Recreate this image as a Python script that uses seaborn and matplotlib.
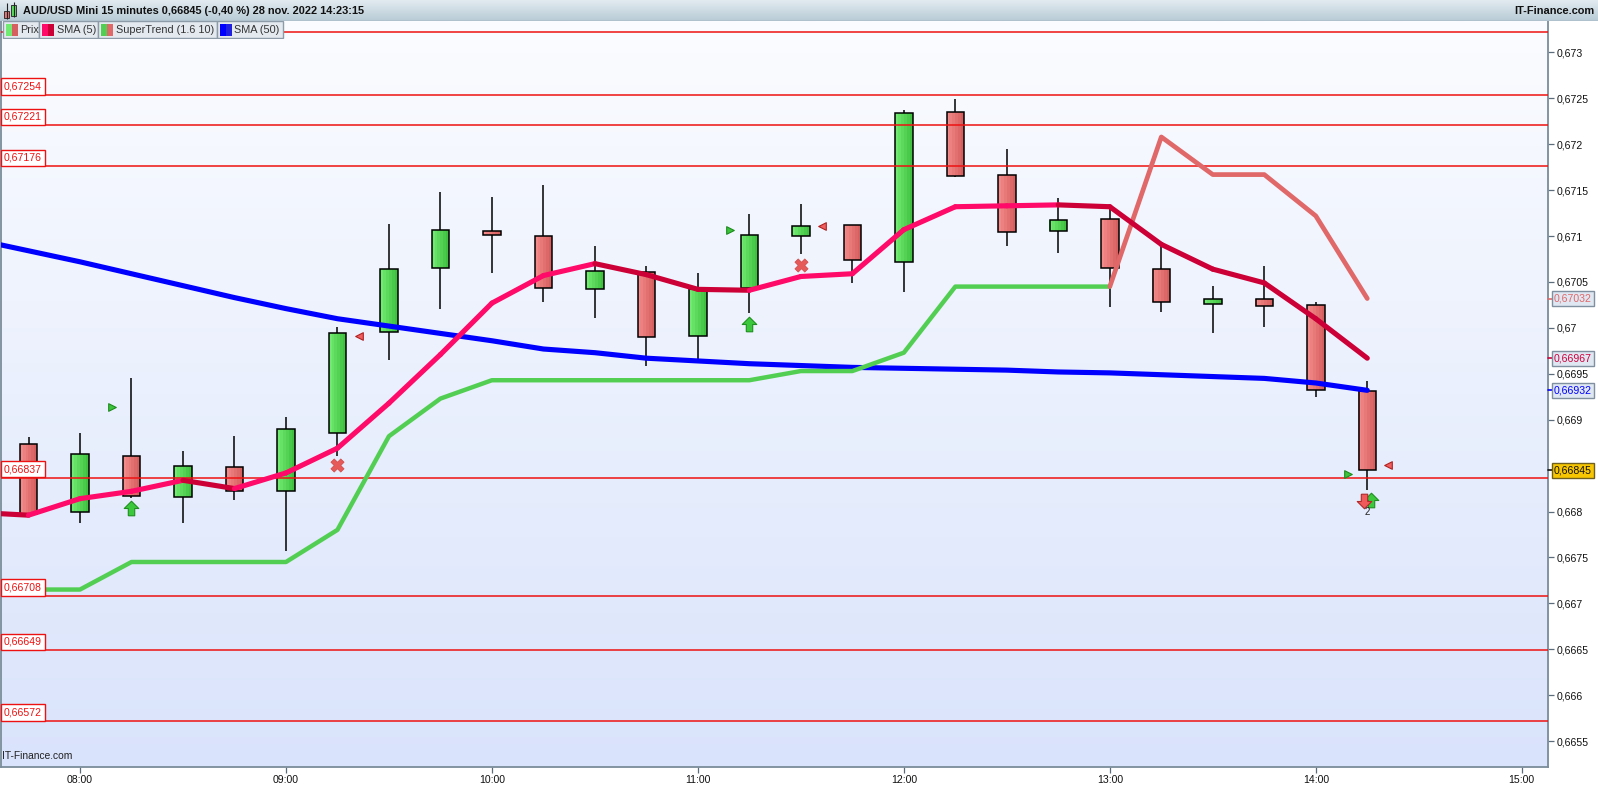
import numpy as np
import matplotlib
matplotlib.use('Agg')
import matplotlib.pyplot as plt
from matplotlib.colors import LinearSegmentedColormap, to_rgb
from matplotlib.patches import Rectangle
from matplotlib.path import Path
import seaborn as sns

W, H = 1598, 787

# 15 minute bars
times = ['07:45', '08:00', '08:15', '08:30', '08:45', '09:00', '09:15', '09:30', '09:45',
         '10:00', '10:15', '10:30', '10:45', '11:00', '11:15', '11:30', '11:45', '12:00',
         '12:15', '12:30', '12:45', '13:00', '13:15', '13:30', '13:45', '14:00', '14:15']
opens = [0.66873, 0.66800, 0.66861, 0.66816, 0.66849, 0.66822, 0.66886, 0.66995, 0.67065,
         0.67106, 0.67100, 0.67042, 0.67061, 0.66991, 0.67044, 0.67100, 0.67112, 0.67072,
         0.67235, 0.67167, 0.67106, 0.67119, 0.67064, 0.67026, 0.67032, 0.67025, 0.66931]
highs = [0.66881, 0.66886, 0.66945, 0.66866, 0.66882, 0.66903, 0.67001, 0.67113, 0.67148,
         0.67143, 0.67156, 0.67089, 0.67067, 0.67060, 0.67124, 0.67135, 0.67112, 0.67237,
         0.67249, 0.67195, 0.67142, 0.67132, 0.67093, 0.67046, 0.67067, 0.67028, 0.66942]
lows = [0.66796, 0.66787, 0.66815, 0.66787, 0.66812, 0.66757, 0.66861, 0.66965, 0.67021,
        0.67060, 0.67028, 0.67011, 0.66959, 0.66966, 0.67016, 0.67080, 0.67049, 0.67039,
        0.67164, 0.67089, 0.67082, 0.67023, 0.67017, 0.66994, 0.67001, 0.66925, 0.66823]
closes = [0.66797, 0.66863, 0.66817, 0.66850, 0.66822, 0.66890, 0.66994, 0.67064, 0.67107,
          0.67101, 0.67043, 0.67062, 0.66990, 0.67042, 0.67101, 0.67111, 0.67074, 0.67234,
          0.67166, 0.67105, 0.67118, 0.67065, 0.67028, 0.67032, 0.67024, 0.66932, 0.66845]

# indicators, first value belongs to the bar before 07:45
sma5 = [0.66799, 0.66796, 0.66814, 0.66822, 0.66834, 0.66825, 0.66842, 0.66869, 0.66918,
        0.66971, 0.67027, 0.67057, 0.67070, 0.67058, 0.67042, 0.67041, 0.67056, 0.67059,
        0.67107, 0.67132, 0.67133, 0.67134, 0.67132, 0.67091, 0.67064, 0.67049, 0.67010, 0.66967]
sma50 = [0.67096, 0.67084, 0.67072, 0.67059, 0.67046, 0.67033, 0.67021, 0.67010, 0.67002,
         0.66994, 0.66986, 0.66977, 0.66973, 0.66967, 0.66964, 0.66961, 0.66959, 0.66957,
         0.66956, 0.66955, 0.66954, 0.66952, 0.66951, 0.66949, 0.66947, 0.66945, 0.66940, 0.66932]
# supertrend: support (bars 07:45-13:00) then resistance (13:00-14:15)
st_up = [0.66715, 0.66715, 0.66745, 0.66745, 0.66745, 0.66745, 0.66780, 0.66882, 0.66923,
         0.66943, 0.66943, 0.66943, 0.66943, 0.66943, 0.66943, 0.66953, 0.66953, 0.66973,
         0.67045, 0.67045, 0.67045, 0.67045]
st_down = [0.67045, 0.67208, 0.67167, 0.67167, 0.67122, 0.67032]

# horizontal levels
levels = [0.67322, 0.67254, 0.67221, 0.67176, 0.66837, 0.66708, 0.66649, 0.66572]
level_labels = ['', '0,67254', '0,67221', '0,67176', '0,66837', '0,66708', '0,66649', '0,66572']

# signals (bar index, price)
buy_tri_bar, buy_tri_px = [2, 14, 26], [0.66914, 0.67107, 0.66841]
sell_tri_bar, sell_tri_px = [6, 15, 26], [0.66991, 0.67111, 0.66851]
cross_bar, cross_px = [6, 15], [0.66851, 0.67069]
up_bar, up_px = [2, 14, 26], [0.66804, 0.67004, 0.66813]
down_bar, down_px = [26], [0.66811]

hour_labels = ['08:00', '09:00', '10:00', '11:00', '12:00', '13:00', '14:00', '15:00']
# 0,6685 is hidden behind the last price tag
y_ticks = [0.6655, 0.666, 0.6665, 0.667, 0.6675, 0.668, 0.669, 0.6695,
           0.67, 0.6705, 0.671, 0.6715, 0.672, 0.6725, 0.673]

GREEN_L, GREEN_R = '#70ea70', '#40c240'
RED_L, RED_R = '#f38a8a', '#d65f5f'
SMA5_UP = '#ff0a68'
SMA5_DN = '#cc0036'
ST_GREEN = '#52cf52'
ST_RED = '#e06868'


def to_x(t):
    h, m = t.split(':')
    return (int(h) * 60 + int(m) - (7 * 60 + 45)) / 15.0


def mix(c1, c2, f):
    a, b = np.array(to_rgb(c1)), np.array(to_rgb(c2))
    return tuple(a + (b - a) * f)


sns.set_theme(style='white')
plt.rcParams['font.family'] = ['Liberation Sans', 'DejaVu Sans']

fig = plt.figure(figsize=(W / 100, H / 100), dpi=100, facecolor='white')
ax = fig.add_axes([0.5 / W, 20 / H, 1547.5 / W, 746 / H])

x_bars = np.array([to_x(t) for t in times])
x_ind = np.arange(-1, len(times))

xmin, xmax = -0.544, 29.51
ymin, ymax = 0.665217, 0.673343

# background gradient
bg = LinearSegmentedColormap.from_list('bg', ['#d9e3fb', '#eaf0fd', '#fbfcff'])
ax.imshow(np.linspace(0, 1, 256).reshape(-1, 1), cmap=bg, origin='lower',
          extent=[xmin, xmax, ymin, ymax], aspect='auto', zorder=0)

# candles: wick, shaded body in strips, black outline
o, hi, lo, c = map(np.array, (opens, highs, lows, closes))
up = c >= o
body_w = 0.34
n_strip = 6
ax.vlines(x_bars, lo, hi, color='black', lw=1.1, zorder=2)
for k in range(n_strip):
    f = k / (n_strip - 1)
    off = -body_w / 2 + body_w * (k + 0.5) / n_strip
    cols = [mix(GREEN_L, GREEN_R, f) if u else mix(RED_L, RED_R, f) for u in up]
    ax.bar(x_bars + off, np.abs(c - o), bottom=np.minimum(o, c), width=body_w / n_strip * 1.05,
           color=cols, edgecolor='none', linewidth=0, zorder=3)
ax.bar(x_bars, np.abs(c - o), bottom=np.minimum(o, c), width=body_w,
       fill=False, edgecolor='black', linewidth=1.1, zorder=3.5)

# horizontal levels
for lv, lab in zip(levels, level_labels):
    ax.axhline(lv, color='#ee1111', lw=1.1, zorder=4)
    if lab:
        ax.annotate(lab, xy=(0, lv), xycoords=ax.get_yaxis_transform(),
                    xytext=(2.3, 2.4), textcoords='offset points', ha='left', va='bottom',
                    fontsize=7.6, color='#ee1111', zorder=9,
                    bbox=dict(boxstyle='square,pad=0.3', fc='white', ec='#ee1111', lw=1.0))

# indicator lines
sns.lineplot(x=x_ind, y=sma50, color='#0000ff', lw=3.7, ax=ax, zorder=5)
sns.lineplot(x=x_bars[:len(st_up)], y=st_up, color=ST_GREEN, lw=3.2, ax=ax, zorder=5)
sns.lineplot(x=x_bars[len(st_up) - 1:], y=st_down, color=ST_RED, lw=3.4, ax=ax, zorder=5)
for i in range(len(sma5) - 1):
    col = SMA5_UP if sma5[i + 1] >= sma5[i] else SMA5_DN
    ax.plot(x_ind[i:i + 2], sma5[i:i + 2], color=col, lw=3.7, solid_capstyle='round', zorder=6)

# signals
arrow = Path([(-0.22, -0.5), (0.22, -0.5), (0.22, 0.0), (0.5, 0.0), (0.0, 0.5),
              (-0.5, 0.0), (-0.22, 0.0), (-0.22, -0.5)])
arrow_dn = Path([(x, -y) for x, y in arrow.vertices])
sns.scatterplot(x=np.array(buy_tri_bar) - 0.38, y=buy_tri_px, marker='>', s=30,
                color='#3cc43c', edgecolor='#1d8a1d', linewidth=0.8, ax=ax, zorder=7)
sns.scatterplot(x=np.array(sell_tri_bar) + 0.41, y=sell_tri_px, marker='<', s=30,
                color='#f06060', edgecolor='#b02020', linewidth=0.8, ax=ax, zorder=7)
sns.scatterplot(x=cross_bar, y=cross_px, marker='X', s=90, color='#e65a5a',
                edgecolor='#d04848', linewidth=0.5, ax=ax, zorder=7)
up_off = [0, 0, 0.07]
sns.scatterplot(x=np.array(up_bar) + np.array(up_off), y=up_px, marker=arrow, s=110,
                color='#3cc83c', edgecolor='#1f8f1f', linewidth=0.8, ax=ax, zorder=7)
sns.scatterplot(x=np.array(down_bar) - 0.06, y=down_px, marker=arrow_dn, s=110,
                color='#f05a5a', edgecolor='#b02a2a', linewidth=0.8, ax=ax, zorder=7)
ax.text(down_bar[0], down_px[0] - 0.00012, '2', ha='center', va='center', fontsize=7,
        color='#222222', zorder=7)

ax.set_xlim(xmin, xmax)
ax.set_ylim(ymin, ymax)
ax.set_xlabel('')
ax.set_ylabel('')

# axes, ticks
ax.set_xticks([to_x(t) for t in hour_labels])
ax.set_xticklabels(hour_labels)
ax.set_yticks(y_ticks)
ax.set_yticklabels([f'{v:.4f}'.rstrip('0').replace('.', ',') for v in y_ticks])
for lab in ax.get_yticklabels():
    if lab.get_text() == '0,67':
        lab.set_fontweight('bold')
        lab.set_fontsize(8.6)
ax.yaxis.tick_right()
ax.tick_params(axis='y', right=True, left=False, length=4, width=0.9, color='#5c6c7a',
               labelsize=7.6, pad=2, labelcolor='#111111')
ax.tick_params(axis='x', bottom=True, length=4, width=0.9, color='#5c6c7a',
               labelsize=7.6, pad=2, labelcolor='#111111')
for side in ['left', 'right', 'bottom']:
    ax.spines[side].set_color('#7a8c9a')
    ax.spines[side].set_linewidth(1.3)
ax.spines['top'].set_visible(False)

# value tags on the price scale
tags = [(0.67032, '0,67032', '#e06868', '#dfe7f3', '#8090a0'),
        (0.66967, '0,66967', '#d0003a', '#dfe7f3', '#8090a0'),
        (0.66932, '0,66932', '#0000ff', '#dfe7f3', '#8090a0'),
        (0.66845, '0,66845', '#111111', '#f7c600', '#706020')]
for val, txt, tc, fc, ec in tags:
    ax.plot([1.0, 1.0025], [val, val], color=tc, lw=1.2, transform=ax.get_yaxis_transform(),
            clip_on=False, zorder=9)
    ax.annotate(txt, xy=(1.0, val), xycoords=ax.get_yaxis_transform(), xytext=(4.2, 0),
                textcoords='offset points', ha='left', va='center', fontsize=7.6, color=tc,
                annotation_clip=False, zorder=10,
                bbox=dict(boxstyle='square,pad=0.22', fc=fc, ec=ec, lw=1.0))

ax.text(0.0012, 0.008, 'IT-Finance.com', transform=ax.transAxes, fontsize=7.4,
        color='#222222', ha='left', va='bottom', zorder=9)

# header bar
hax = fig.add_axes([0, 1 - 21 / H, 1, 21 / H])
hdr = LinearSegmentedColormap.from_list('hdr', ['#e2ebf0', '#b8cbd6'])
hax.imshow(np.linspace(0, 1, 64).reshape(-1, 1), cmap=hdr, extent=[0, W, 21, 0], aspect='auto')
hax.set_xlim(0, W)
hax.set_ylim(21, 0)
hax.axis('off')
hax.axhline(20.5, color='#8a9aa8', lw=1)
hax.vlines([6.5, 13.5], [3, 2], [19, 17], color='#222222', lw=0.8)
hax.add_patch(Rectangle((4, 11), 5, 6.5, fc='#e87070', ec='#333333', lw=0.7))
hax.add_patch(Rectangle((11, 5), 5, 10.5, fc='#5cd95c', ec='#333333', lw=0.7))
hax.text(23, 11, 'AUD/USD Mini 15 minutes 0,66845 (-0,40 %) 28 nov. 2022 14:23:15',
         fontsize=7.9, fontweight='bold', color='#111111', va='center', ha='left')
hax.text(1594, 11, 'IT-Finance.com', fontsize=7.9, fontweight='bold', color='#111111',
         va='center', ha='right')

# legend tabs
tax = fig.add_axes([0, 1 - 38.5 / H, 290 / W, 17.5 / H])
tax.set_xlim(0, 290)
tax.set_ylim(17.5, 0)
tax.axis('off')
tabs = [('Prix', 2.7, 39.3, [GREEN_L, RED_R]),
        ('SMA (5)', 39.3, 98.3, [SMA5_UP, SMA5_DN]),
        ('SuperTrend (1.6 10)', 98.3, 216.7, [ST_GREEN, ST_RED]),
        ('SMA (50)', 216.7, 283.3, ['#0000ff', '#2020e0'])]
for name, x0, x1, cols in tabs:
    tax.add_patch(Rectangle((x0, 0.3), x1 - x0, 16.8, fc='#e3e9ef', ec='#8d9ba8', lw=1))
    tax.add_patch(Rectangle((x0 + 3, 3), 6, 11.5, fc=cols[0], ec='none'))
    tax.add_patch(Rectangle((x0 + 9, 3), 6, 11.5, fc=cols[1], ec='none'))
    tax.text(x0 + 17.5, 9, name, fontsize=7.8, color='#333333', va='center', ha='left')

fig.savefig('out.png', dpi=100, facecolor='white')
